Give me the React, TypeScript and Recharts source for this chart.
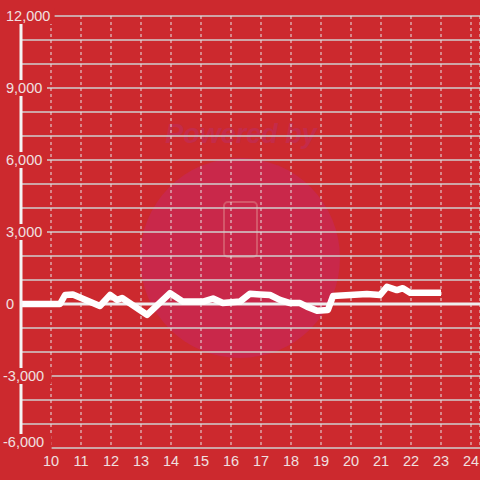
import {
  LineChart,
  Line,
  XAxis,
  YAxis,
  CartesianGrid,
  ReferenceLine
} from 'recharts';

const xValues = [9, 10.3, 10.47, 10.73, 11.63, 11.97, 12.2, 12.37, 13.2, 13.97, 14.4, 15.07, 15.4, 15.73, 16.3, 16.63, 16.97, 17.3, 17.63, 17.97, 18.3, 18.53, 18.87, 19.23, 19.4, 19.97, 20.53, 20.97, 21.2, 21.53, 21.73, 21.97, 23];
const yValues = [0, 0, 375, 400, -80, 375, 170, 250, -450, 450, 100, 100, 230, 40, 100, 430, 400, 375, 170, 40, 40, -110, -280, -250, 330, 375, 420, 375, 720, 580, 660, 470, 470];
const xTicks = [10, 11, 12, 13, 14, 15, 16, 17, 18, 19, 20, 21, 22, 23, 24];
const yTicks = [-6000, -5000, -4000, -3000, -2000, -1000, 0, 1000, 2000, 3000, 4000, 5000, 6000, 7000, 8000, 9000, 10000, 11000, 12000];

const data = xValues.map((x, i) => ({ x, value: yValues[i] }));

const BG = '#cc292e';
const LABEL = '#f0e0e0';

function YTick(props: any) {
  const { y, payload } = props;
  const v = payload.value as number;
  if (v % 3000 !== 0) return <g />;
  const text = v.toLocaleString('en-US');
  const x0 = v < 0 ? 3 : 6;
  const w = text.length * 7.6;
  // bottom label is nudged up so it stays inside the chart
  const shift = v === -6000 ? -6 : 0;
  return (
    <g>
      <rect x={x0 - 1} y={y + shift - 8} width={w + 4} height={v === -6000 ? 18 : 16} fill={BG} />
      <text x={x0} y={y + shift} dy={5} textAnchor="start" fill={LABEL} fontSize={14.5}>
        {text}
      </text>
    </g>
  );
}

function Watermark() {
  return (
    <svg width={480} height={480} style={{ position: 'absolute', left: 0, top: 0 }}>
      <circle cx={240} cy={258} r={100} fill="#c9284a" />
      <text x={241} y={143} textAnchor="middle" fontSize={27} fontWeight="bold" fontStyle="italic" fill="#c42b4a" fontFamily="Liberation Sans, Arial, sans-serif">
        Powered by
      </text>
      <rect x={224} y={202} width={33} height={55} rx={4} fill="none" stroke="#d4586a" strokeWidth={2} />
    </svg>
  );
}

function App() {
  return (
    <div style={{ position: 'absolute', left: 0, top: 0, width: 480, height: 480, background: BG, fontFamily: 'Liberation Sans, Arial, sans-serif' }}>
      <Watermark />
      <div style={{ position: 'absolute', left: 0, top: 0 }}>
        <LineChart width={480} height={480} data={data} margin={{ top: 16, right: 0, left: 20, bottom: 2 }}>
          <CartesianGrid vertical={false} stroke="#cfcfcf" strokeWidth={1.5} />
          <CartesianGrid horizontal={false} stroke="#e6e6e6" strokeDasharray="3 3" />
          <XAxis
            dataKey="x"
            type="number"
            domain={[9, 24.3]}
            ticks={xTicks}
            axisLine={false}
            tickLine={false}
            tick={{ fill: LABEL, fontSize: 14.5 }}
            height={30}
          />
          <ReferenceLine y={0} stroke="#eeeeee" strokeWidth={3} />
          <Line
            type="linear"
            dataKey="value"
            stroke="#ffffff"
            strokeWidth={6.5}
            strokeLinejoin="round"
            dot={false}
            isAnimationActive={false}
          />
          <YAxis
            type="number"
            domain={[-6000, 12000]}
            ticks={yTicks}
            width={1}
            axisLine={{ stroke: '#f4f4f4', strokeWidth: 3 }}
            tickLine={false}
            tick={<YTick />}
            interval={0}
          />
        </LineChart>
      </div>
    </div>
  );
}

export default App;
